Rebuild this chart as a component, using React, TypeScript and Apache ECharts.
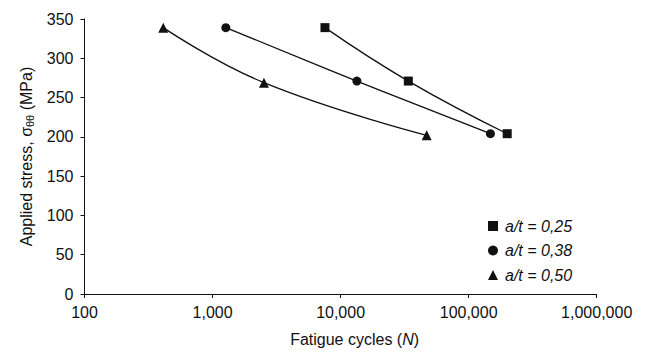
import React, { useEffect, useRef } from "react";
import * as echarts from "echarts";

// Fatigue cycles (N) and applied stress (MPa) per crack depth ratio
const seriesNames = ["a/t = 0,25", "a/t = 0,38", "a/t = 0,50"];
const cycles025 = [7550, 33800, 200000];
const stress025 = [339, 271, 204];
const cycles038 = [1270, 13400, 148000];
const stress038 = [339, 271, 204];
const cycles050 = [412, 2520, 47000];
const stress050 = [339, 269, 202];

const xMin = 100;
const xMax = 1000000;
const yMin = 0;
const yMax = 350;
const yStep = 50;

const FONT = '"Liberation Sans", Arial, Helvetica, sans-serif';
const INK = "#111111";

function pairs(xs: number[], ys: number[]) {
  return xs.map((x, i) => [x, ys[i]]);
}

function withCommas(v: number) {
  return Math.round(v)
    .toString()
    .replace(/\B(?=(\d{3})+(?!\d))/g, ",");
}

export default function App() {
  const ref = useRef<HTMLDivElement>(null);

  useEffect(() => {
    if (!ref.current) return;
    const chart = echarts.init(ref.current, null, { renderer: "svg" });
    const symbols = ["rect", "circle", "triangle"];
    const sizes = [9, 9, 10];
    const data = [
      pairs(cycles025, stress025),
      pairs(cycles038, stress038),
      pairs(cycles050, stress050),
    ];
    chart.setOption({
      animation: false,
      backgroundColor: "#ffffff",
      textStyle: { fontFamily: FONT },
      grid: { left: 84.5, right: 51.3, top: 19, bottom: 54.7, containLabel: false },
      legend: {
        orient: "vertical",
        left: 483,
        top: 213,
        itemWidth: 10,
        itemHeight: 10,
        itemGap: 8.5,
        textStyle: {
          fontFamily: FONT,
          fontSize: 16,
          fontStyle: "italic",
          color: INK,
          padding: [0, 0, 0, 2],
        },
        data: seriesNames.map((n, i) => ({ name: n, icon: symbols[i] })),
      },
      xAxis: {
        type: "log",
        logBase: 10,
        min: xMin,
        max: xMax,
        name: "{a|Fatigue cycles (}{i|N}{a|)}",
        nameLocation: "middle",
        nameGap: 37,
        nameTextStyle: {
          padding: [0, 0, 0, 28],
          rich: {
            a: { fontFamily: FONT, fontSize: 16, color: INK },
            i: { fontFamily: FONT, fontSize: 16, color: INK, fontStyle: "italic" },
          },
        },
        axisLine: { lineStyle: { color: INK, width: 1 } },
        axisTick: { show: true, length: 4, inside: false, lineStyle: { color: INK } },
        minorTick: { show: false },
        splitLine: { show: false },
        axisLabel: {
          fontFamily: FONT,
          fontSize: 16,
          color: INK,
          margin: 10,
          formatter: (v: number) => withCommas(v),
        },
      },
      yAxis: {
        type: "value",
        min: yMin,
        max: yMax,
        interval: yStep,
        name: "{a|Applied stress, σ}{s|θθ}{a| (MPa)}",
        nameLocation: "middle",
        nameRotate: 90,
        nameGap: 49,
        nameTextStyle: {
          rich: {
            a: { fontFamily: FONT, fontSize: 16, color: INK, lineHeight: 18 },
            s: { fontFamily: FONT, fontSize: 11, color: INK, verticalAlign: "bottom", lineHeight: 18 },
          },
        },
        axisLine: { show: true, lineStyle: { color: INK, width: 1 } },
        axisTick: { show: true, length: 4, inside: false, lineStyle: { color: INK } },
        splitLine: { show: false },
        axisLabel: { fontFamily: FONT, fontSize: 16, color: INK, margin: 11 },
      },
      series: seriesNames.map((name, i) => ({
        name,
        type: "line",
        data: data[i],
        smooth: 0.45,
        symbol: symbols[i],
        symbolSize: sizes[i],
        showSymbol: true,
        itemStyle: { color: INK },
        lineStyle: { color: INK, width: 1.3 },
      })),
    });
    return () => chart.dispose();
  }, []);

  return (
    <div
      ref={ref}
      style={{ position: "absolute", left: 0, top: 0, width: 648, height: 352, background: "#fff" }}
    />
  );
}
